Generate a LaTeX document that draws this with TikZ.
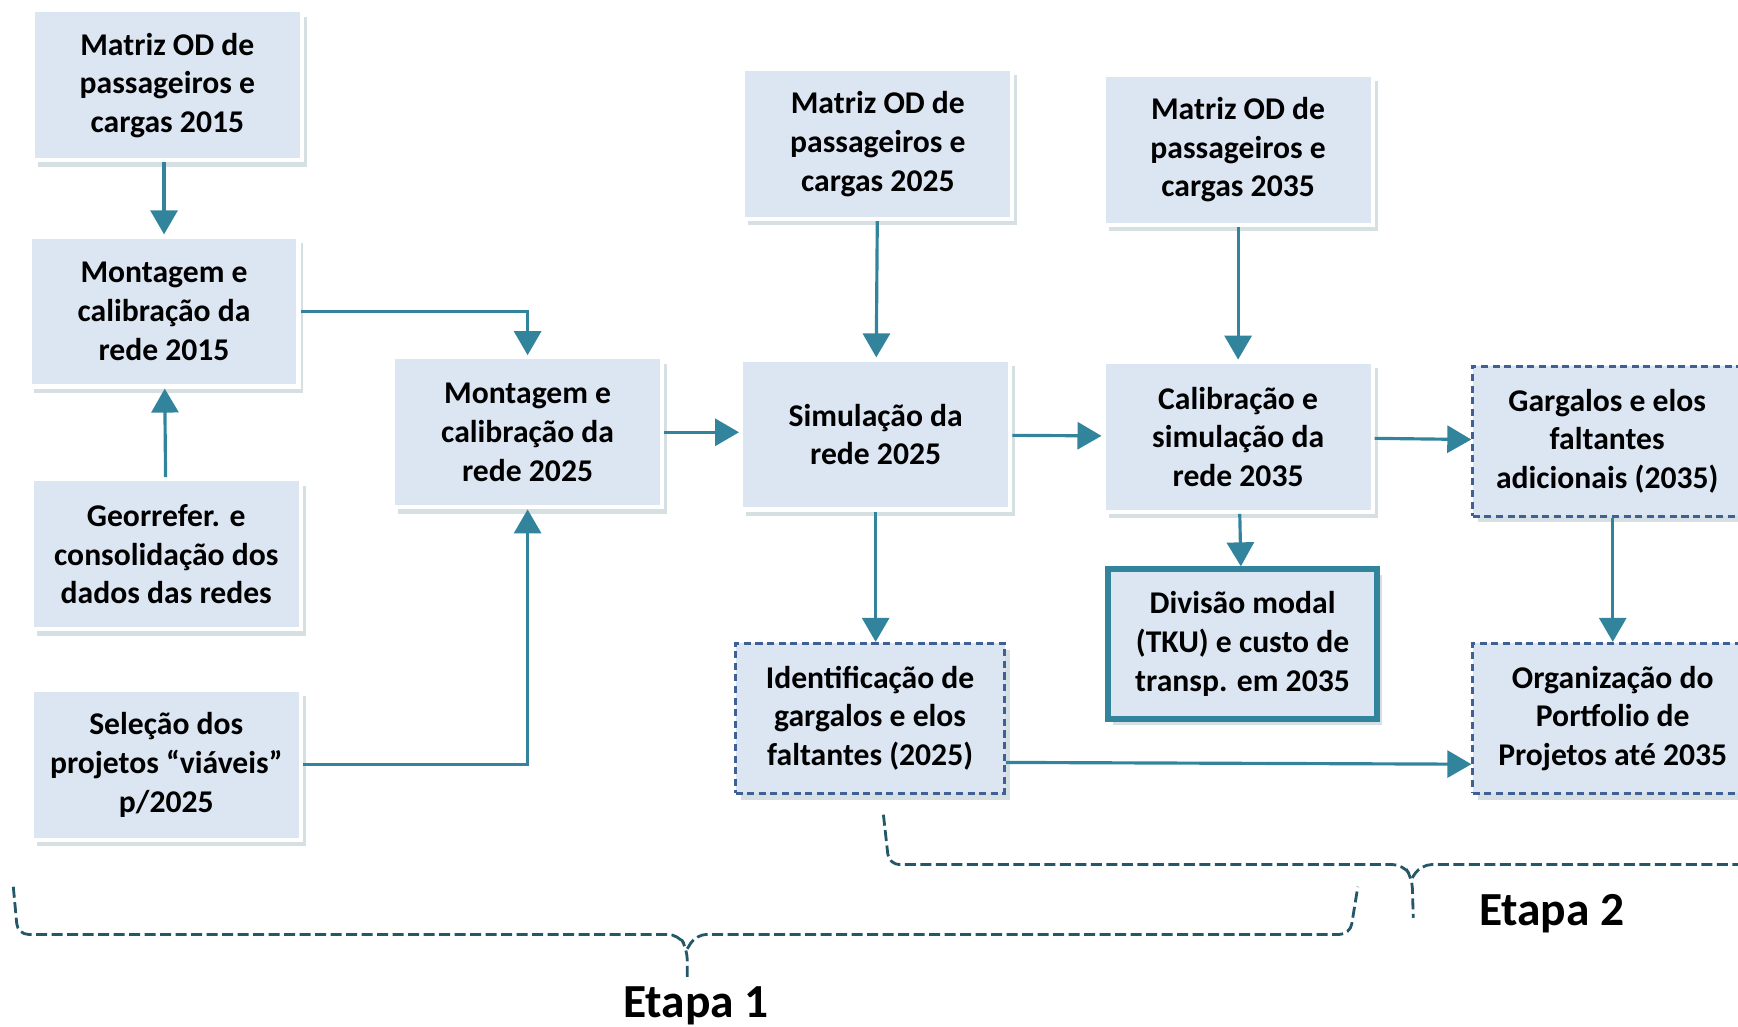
\documentclass[tikz,border=0pt]{standalone}
\usepackage{fontspec}
\setmainfont{Carlito}
\usetikzlibrary{arrows.meta,shadows}
\definecolor{FlxFill}{RGB}{220,230,242}
\definecolor{FlxTeal}{RGB}{49,132,155}
\definecolor{FlxDash}{RGB}{62,96,148}
\definecolor{FlxBrace}{RGB}{36,88,104}
\definecolor{FlxShadow}{RGB}{120,150,160}
\tikzset{
  flx/box/.style={
    draw=white,
    line width=1.2pt,
    fill=FlxFill,
    align=center,
    text=black,
    minimum width=2.69cm,
    minimum height=1.5cm,
    inner sep=2pt,
    font=\fontsize{9}{11}\selectfont\bfseries,
    drop shadow={shadow xshift=1.4pt,shadow yshift=-1.8pt,opacity=0.3,fill=FlxShadow}
  },
  flx/dashbox/.style={
    flx/box,
    draw=FlxDash,
    line width=0.8pt,
    dash pattern=on 2pt off 1.3pt
  },
  flx/keybox/.style={
    flx/box,
    draw=FlxTeal,
    line width=1.5pt
  },
  flx/arrow/.style={-{Triangle[length=2.4mm,width=2.7mm]}, line width=0.9pt, draw=FlxTeal},
  flx/brace/.style={draw=FlxBrace, line width=0.8pt, dash pattern=on 1.1mm off 0.45mm, rounded corners=3pt},
  flx/stage/.style={font=\fontsize{13.5}{16}\selectfont\bfseries, text=black}
}
\begin{document}
\begin{tikzpicture}[x=0.11084mm,y=-0.11084mm]
  \clip (0,0) rectangle (1568,926);
  % first column: 2015 base
  \node[flx/box] (m15) at (151,77) {Matriz OD de\\passageiros e\\cargas 2015};
  \node[flx/box] (r15) at (148,281) {Montagem e\\calibração da\\rede 2015};
  \node[flx/box] (geo) at (150,500) {Georrefer. e\\consolidação dos\\dados das redes};
  \node[flx/box] (sel) at (150,690) {Seleção dos\\projetos “viáveis”\\p/2025};
  \node[flx/box] (r25) at (476,390) {Montagem e\\calibração da\\rede 2025};
  % 2025 and 2035 scenarios
  \node[flx/box] (m25) at (792,130) {Matriz OD de\\passageiros e\\cargas 2025};
  \node[flx/box] (sim25) at (790,392) {Simulação da\\rede 2025};
  \node[flx/dashbox] (gap25) at (785,648) {Identificação de\\gargalos e elos\\faltantes (2025)};
  \node[flx/box] (m35) at (1117,135) {Matriz OD de\\passageiros e\\cargas 2035};
  \node[flx/box] (cal35) at (1117,394) {Calibração e\\simulação da\\rede 2035};
  \node[flx/keybox] (modal) at (1121,581) {Divisão modal\\(TKU) e custo de\\transp. em 2035};
  \node[flx/dashbox] (gap35) at (1450,398) {Gargalos e elos\\faltantes\\adicionais (2035)};
  \node[flx/dashbox,minimum width=2.8cm] (port) at (1455,648) {Organização do\\Portfolio de\\Projetos até 2035};

  \draw[flx/arrow] (m15.south -| r15) -- (r15.north);
  \draw[flx/arrow] (geo) -- (r15);
  \draw[flx/arrow] (r15.east) -| (r25.north);
  \draw[flx/arrow] (sel.east) -| (r25.south);
  \draw[flx/arrow] (r25.east) -- (r25.east -| sim25.west);
  \draw[flx/arrow] (m25) -- (sim25);
  \draw[flx/arrow] (sim25) -- (cal35);
  \draw[flx/arrow] (sim25.south) -- (sim25.south |- gap25.north);
  \draw[flx/arrow] (m35) -- (cal35);
  \draw[flx/arrow] (cal35) -- (modal);
  \draw[flx/arrow] (cal35) -- (gap35);
  \draw[flx/arrow] (gap35.south -| port) -- (port.north);
  \draw[flx/arrow] (gap25.-18) -- (port.198);

  % stage braces
  \draw[flx/brace] (12,800) -- (16,843) -- (612,843) -- (620,856) -- (620,885);
  \draw[flx/brace] (620,856) -- (628,843) -- (1218,843) -- (1225,800);
  \node[flx/stage] (etapa1) at (628,907) {Etapa 1};
  \draw[flx/brace] (797,735) -- (802,780) -- (1266,780) -- (1274,792) -- (1275,828);
  \draw[flx/brace] (1274,792) -- (1282,780) -- (1600,780);
  \node[flx/stage] (etapa2) at (1400,824) {Etapa 2};
\end{tikzpicture}
\end{document}
